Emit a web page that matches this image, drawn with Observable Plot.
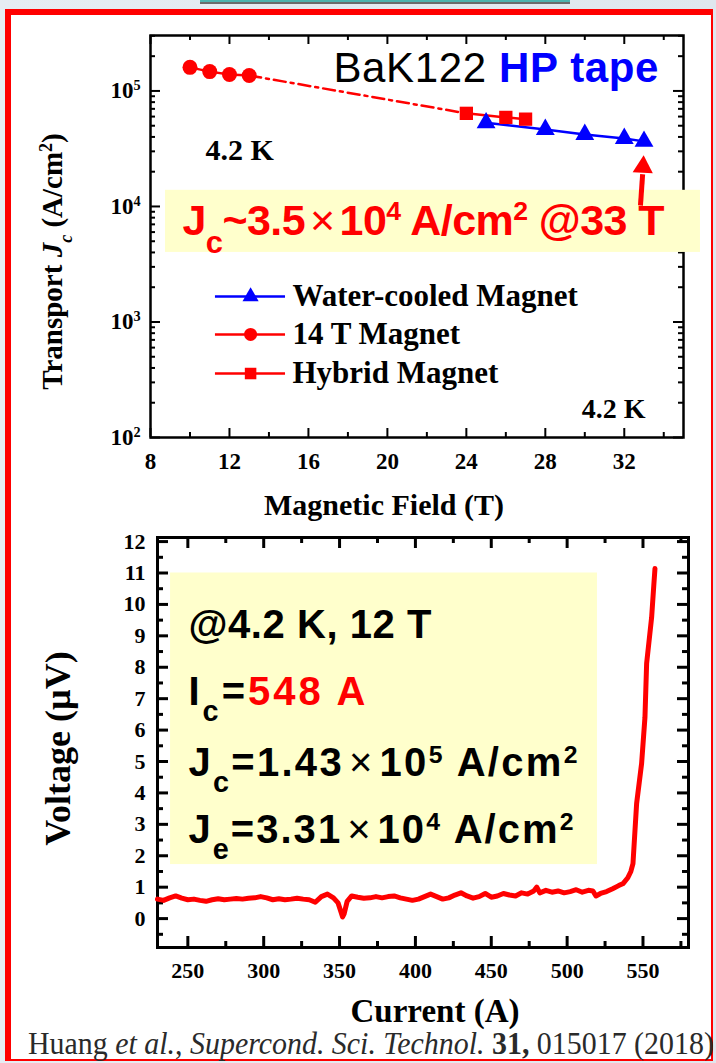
<!DOCTYPE html>
<html>
<head>
<meta charset="utf-8">
<script src="https://cdn.jsdelivr.net/npm/d3@7"></script>
<script src="https://cdn.jsdelivr.net/npm/@observablehq/plot@0.6"></script>
<style>
html, body { margin: 0; padding: 0; }
body { width: 716px; height: 1063px; position: relative; overflow: hidden; background: linear-gradient(90deg, #e6edf3, #dfe7ee); }
#tab { position: absolute; left: 200px; top: -8px; width: 370px; height: 10px; background: #4db3ae; border-bottom: 2px solid #6b6b6b; }
#sheet { position: absolute; left: 5px; top: 9px; width: 700px; height: 1044px; background: #fff;
  border-left: 6px solid #ff0000; border-top: 6px solid #ff0000; border-right: 2px solid #ff0000; border-bottom: 2px solid #ff0000; }
#top { position: absolute; left: 0; top: 0; }
#bottom { position: absolute; left: 0; top: 530px; }
#caption { position: absolute; left: 28px; top: 1029px; font-family: "Liberation Serif", "Times New Roman", serif; font-size: 32px; line-height: 28px; color: #2a2a2a; white-space: nowrap; transform: scaleX(0.935); transform-origin: 0 0; }
</style>
</head>
<body>
<div id="tab"></div>
<div id="sheet"></div>
<div id="top"></div>
<div id="bottom"></div>
<div id="caption">Huang <i>et al.</i>, <i>Supercond. Sci. Technol.</i> <b>31,</b> 015017 (2018)</div>
<script>
// ---------------- data: top chart (Jc vs field) ----------------
const seriesNames = ["Water-cooled Magnet", "14 T Magnet", "Hybrid Magnet"];
const fieldWater = [25, 28, 30, 32, 33];
const jcWater = [5.3e4, 4.64e4, 4.2e4, 3.88e4, 3.66e4];
const field14T = [10, 11, 12, 13];
const jc14T = [1.6e5, 1.47e5, 1.39e5, 1.36e5];
const fieldHybrid = [24, 26, 27];
const jcHybrid = [6.4e4, 5.9e4, 5.7e4];
const fieldTicks = [8, 12, 16, 20, 24, 28, 32];
const fieldMinorTicks = [10, 14, 18, 22, 26, 30, 34];
const jcTicks = [1e2, 1e3, 1e4, 1e5];

// ---------------- data: bottom chart (V-I curve) ----------------
const currentA = [230,234,238,242,246,250,254,258,262,266,270,274,278,282,286,290,294,298,302,306,310,314,318,322,326,330,334,338,342,346,349,351,352,353,355,358,362,366,370,374,378,382,386,390,394,398,402,406,410,414,418,422,426,430,434,438,442,446,450,454,458,462,466,470,474,478,480,482,486,490,494,498,502,506,510,514,517,519,522,526,530,534,537,540,542,543.4,545.8,549.1,551.3,552.4,555.7,557.2,557.9];
const voltageUV = [0.62,0.58,0.66,0.72,0.65,0.6,0.62,0.58,0.55,0.6,0.63,0.6,0.62,0.64,0.62,0.65,0.66,0.7,0.66,0.6,0.63,0.6,0.62,0.65,0.62,0.6,0.52,0.7,0.78,0.66,0.5,0.2,0.05,0.15,0.55,0.72,0.68,0.65,0.66,0.7,0.66,0.7,0.72,0.66,0.62,0.58,0.62,0.7,0.78,0.7,0.62,0.66,0.75,0.82,0.72,0.65,0.7,0.8,0.68,0.72,0.8,0.75,0.72,0.82,0.78,0.88,1.0,0.82,0.9,0.84,0.88,0.82,0.86,0.92,0.84,0.9,0.88,0.72,0.8,0.86,0.95,1.05,1.12,1.3,1.5,1.75,3.66,4.94,6.41,8.12,9.59,10.66,11.14];
const currentTicks = [250, 300, 350, 400, 450, 500, 550];
const currentMinorTicks = [275, 325, 375, 425, 475, 525, 575];
const voltageTicks = [0,1,2,3,4,5,6,7,8,9,10,11,12];
const voltageMinorTicks = [-0.5,0.5,1.5,2.5,3.5,4.5,5.5,6.5,7.5,8.5,9.5,10.5,11.5];

// ---------------- helpers ----------------
const RED = "#ff0000", BLUE = "#0000ff", YELLOW = "#ffffcc";
const serif = "Liberation Serif, Times New Roman, serif";
const sans = "Liberation Sans, Arial, sans-serif";
const rows = (xs, ys) => xs.map((x, i) => ({x, y: ys[i]}));

function ticksX(values, len, fH, w) {
  return [
    Plot.tickX(values, {x: d => d, insetTop: fH - len, stroke: "black", strokeWidth: w}),
    Plot.tickX(values, {x: d => d, insetBottom: fH - len, stroke: "black", strokeWidth: w})
  ];
}
function ticksY(values, len, fW, w) {
  return [
    Plot.tickY(values, {y: d => d, insetRight: fW - len, stroke: "black", strokeWidth: w}),
    Plot.tickY(values, {y: d => d, insetLeft: fW - len, stroke: "black", strokeWidth: w})
  ];
}
const sup = t => `<tspan baseline-shift="super" font-size="62%">${t}</tspan>`;
const sub = t => `<tspan baseline-shift="sub" font-size="72%">${t}</tspan>`;
const times = `<tspan font-weight="normal" dx="5">×</tspan><tspan dx="5">10</tspan>`;
const richText = {
  "10^2": {html: "10" + sup("2")}, "10^3": {html: "10" + sup("3")}, "10^4": {html: "10" + sup("4")}, "10^5": {html: "10" + sup("5")},
  "Transport Jc (A/cm2)": {html: `Transport <tspan font-style="italic">J</tspan><tspan baseline-shift="sub" font-size="62%" font-style="italic">c</tspan> (A/cm${sup("2")})`},
  "Jc~3.5×10^4 A/cm^2 @33 T": {html: `J${sub("c")}~3.5${times}${sup("4")} A/cm${sup("2")} @33 T`, len: 482},
  "BaK122 HP tape": {html: `BaK122 <tspan fill="${BLUE}" font-weight="bold">HP tape</tspan>`, len: 325},
  "@4.2 K, 12 T": {html: "@4.2 K, 12 T", len: 243},
  "Ic=548 A": {html: `I${sub("c")}=<tspan fill="${RED}">548 A</tspan>`, len: 177},
  "Jc=1.43×10^5 A/cm^2": {html: `J${sub("c")}=1.43${times}${sup("5")} A/cm${sup("2")}`, len: 389},
  "Je=3.31×10^4 A/cm^2": {html: `J${sub("e")}=3.31${times}${sup("4")} A/cm${sup("2")}`, len: 385}
};
function enrich(svg) {
  svg.querySelectorAll("text").forEach(t => {
    const r = richText[t.textContent];
    if (r == null) return;
    t.innerHTML = r.html;
    if (r.len) { t.setAttribute("textLength", r.len); t.setAttribute("lengthAdjust", "spacing"); }
  });
}

// ---------------- top chart ----------------
const water = rows(fieldWater, jcWater);
const m14 = rows(field14T, jc14T);
const hyb = rows(fieldHybrid, jcHybrid);
const bridge = [m14[m14.length - 1], hyb[0]];
const jcMinor = [1e2, 1e3, 1e4].flatMap(d => [2,3,4,5,6,7,8,9].map(k => k * d)).concat([2e5, 3e5]);

const T = {w: 716, h: 530, top: 35, right: 33, bottom: 93, left: 150};
const tfW = T.w - T.left - T.right, tfH = T.h - T.top - T.bottom;
const legendY = [1663, 780, 358];
const legendColor = [BLUE, RED, RED];
const legendSymbol = ["triangle", "circle", "square"];
const legendR = [6, 6.5, 6.5];

const topPlot = Plot.plot({
  width: T.w, height: T.h,
  marginTop: T.top, marginRight: T.right, marginBottom: T.bottom, marginLeft: T.left,
  x: {domain: [8, 35]},
  y: {type: "log", domain: [100, 3.02e5]},
  style: {fontFamily: serif, fontWeight: "bold", fontSize: "23px", color: "black", background: "transparent", overflow: "visible"},
  marks: [
    ...ticksX(fieldTicks, 9, tfH, 2),
    ...ticksX(fieldMinorTicks, 5, tfH, 2),
    ...ticksY(jcTicks, 10, tfW, 2),
    ...ticksY(jcMinor, 5, tfW, 2),
    Plot.frame({stroke: "black", strokeWidth: 2.5}),
    Plot.axisX(fieldTicks, {tickSize: 0, tickPadding: 15, label: null, fontSize: 23, fontWeight: "bold", fontFamily: serif}),
    Plot.axisY(jcTicks, {tickSize: 0, tickPadding: 10, label: null, fontSize: 23, fontWeight: "bold", fontFamily: serif,
      tickFormat: d => "10^" + Math.round(Math.log10(d))}),
    Plot.text(["Magnetic Field (T)"], {text: d => d, frameAnchor: "bottom", textAnchor: "middle", lineAnchor: "middle", dx: -33, dy: 68, fontSize: 30}),
    Plot.text(["Transport Jc (A/cm2)"], {text: d => d, frameAnchor: "left", textAnchor: "middle", lineAnchor: "middle", dx: -98, dy: 25, rotate: -90, fontSize: 29}),
    // data
    Plot.line(bridge, {x: "x", y: "y", stroke: RED, strokeWidth: 2.5, strokeDasharray: "12,5,3,5"}),
    Plot.line(m14, {x: "x", y: "y", stroke: RED, strokeWidth: 2.5}),
    Plot.line(hyb, {x: "x", y: "y", stroke: RED, strokeWidth: 2.5}),
    Plot.line(water, {x: "x", y: "y", stroke: BLUE, strokeWidth: 2.5}),
    Plot.dot(m14, {x: "x", y: "y", symbol: "circle", fill: RED, r: 7.5}),
    Plot.dot(hyb, {x: "x", y: "y", symbol: "square", fill: RED, r: 7.5}),
    Plot.dot(water, {x: "x", y: "y", symbol: "triangle", fill: BLUE, r: 7}),
    // legend
    ...seriesNames.flatMap((name, i) => [
      Plot.ruleY([legendY[i]], {x1: 11.29, x2: 14.84, stroke: legendColor[i], strokeWidth: 2.5}),
      Plot.dot([legendY[i]], {x: 13.07, y: d => d, symbol: legendSymbol[i], fill: legendColor[i], r: legendR[i]}),
      Plot.text([name], {text: d => d, x: 15.19, y: legendY[i], textAnchor: "start", fontSize: 31})
    ]),
    Plot.text(["4.2 K"], {text: d => d, x: 10.79, y: 3.05e4, textAnchor: "start", fontSize: 30}),
    Plot.text(["4.2 K"], {text: d => d, x: 33.08, y: 178, textAnchor: "end", fontSize: 28}),
    Plot.text(["BaK122 HP tape"], {text: d => d, x: 33.73, y: 1.57e5, textAnchor: "end", fontFamily: sans, fontWeight: "normal", fontSize: 42}),
    // annotation box + arrow
    Plot.rect([0], {x1: 8.76, x2: 35.86, y1: 4.0e3, y2: 1.38e4, fill: YELLOW}),
    Plot.text(["Jc~3.5×10^4 A/cm^2 @33 T"], {text: d => d, x: 9.62, y: 7.5e3, textAnchor: "start", fontFamily: sans, fontWeight: "bold", fontSize: 43, fill: RED}),
    Plot.link([0], {x1: 32.82, y1: 1.02e4, x2: 32.93, y2: 1.9e4, stroke: RED, strokeWidth: 5}),
    Plot.dot([0], {x: 32.95, y: 2.2e4, symbol: "triangle", fill: RED, r: 7.5, rotate: 3})
  ]
});
enrich(topPlot);
document.getElementById("top").appendChild(topPlot);

// ---------------- bottom chart ----------------
const vi = rows(currentA, voltageUV);
const B = {w: 716, h: 533, top: 7, right: 28, bottom: 116, left: 157};
const bfW = B.w - B.left - B.right, bfH = B.h - B.top - B.bottom;
const boxLines = ["@4.2 K, 12 T", "Ic=548 A", "Jc=1.43×10^5 A/cm^2", "Je=3.31×10^4 A/cm^2"];
const boxLineY = [9.33, 7.2, 4.94, 2.8];

const botPlot = Plot.plot({
  width: B.w, height: B.h,
  marginTop: B.top, marginRight: B.right, marginBottom: B.bottom, marginLeft: B.left,
  x: {domain: [230, 580]},
  y: {domain: [-0.92, 12.13]},
  style: {fontFamily: serif, fontWeight: "bold", fontSize: "22px", color: "black", background: "transparent", overflow: "visible"},
  marks: [
    ...ticksX(currentTicks, 11, bfH, 3),
    ...ticksX(currentMinorTicks, 6, bfH, 3),
    ...ticksY(voltageTicks, 11, bfW, 3),
    ...ticksY(voltageMinorTicks, 6, bfW, 3),
    Plot.frame({stroke: "black", strokeWidth: 3}),
    Plot.axisX(currentTicks, {tickSize: 0, tickPadding: 15, label: null, fontSize: 22, fontWeight: "bold", fontFamily: serif}),
    Plot.axisY(voltageTicks, {tickSize: 0, tickPadding: 12, label: null, fontSize: 22, fontWeight: "bold", fontFamily: serif}),
    Plot.text(["Current (A)"], {text: d => d, frameAnchor: "bottom", textAnchor: "middle", lineAnchor: "middle", dx: 12, dy: 64, fontSize: 33}),
    Plot.text(["Voltage (µV)"], {text: d => d, frameAnchor: "left", textAnchor: "middle", lineAnchor: "middle", dx: -99, dy: 6, rotate: -90, fontSize: 36}),
    Plot.rect([0], {x1: 238.6, x2: 520, y1: 1.72, y2: 11.0, fill: YELLOW}),
    ...boxLines.map((s, i) => Plot.text([s], {text: d => d, x: 250.4, y: boxLineY[i], textAnchor: "start", fontFamily: sans, fontWeight: "bold", fontSize: 40, fill: "black"})),
    Plot.line(vi, {x: "x", y: "y", stroke: RED, strokeWidth: 5, strokeLinejoin: "round"})
  ]
});
enrich(botPlot);
document.getElementById("bottom").appendChild(botPlot);
</script>
</body>
</html>
